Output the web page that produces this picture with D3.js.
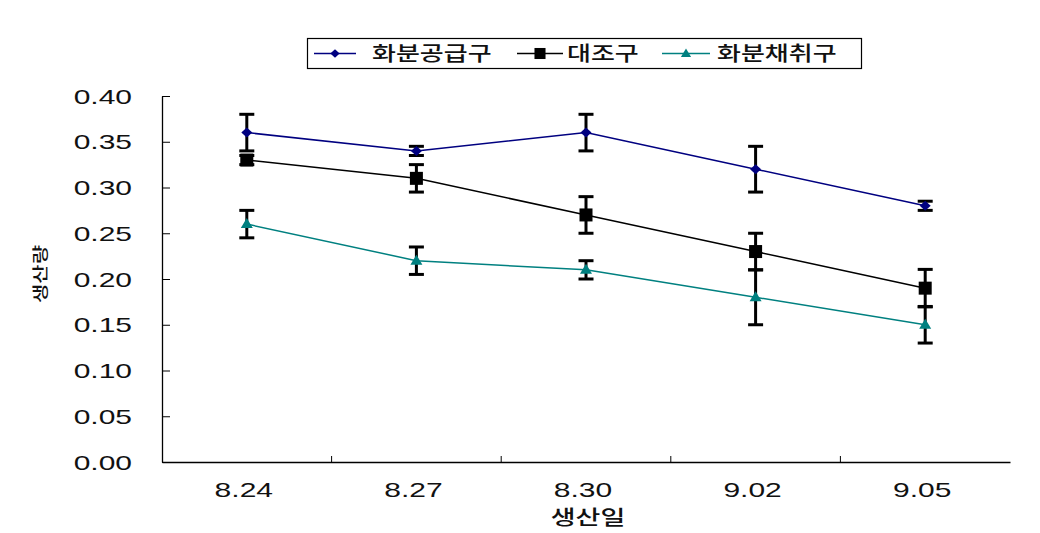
<!DOCTYPE html>
<html><head><meta charset="utf-8">
<script src="https://cdn.jsdelivr.net/npm/d3@7"></script>
<style>
body{margin:0;background:#fff;}
svg{display:block;}
text{font-family:"Liberation Sans",Arial,sans-serif;}
.kr{font-family:"Noto Sans CJK KR","Noto Sans",sans-serif;}
</style></head>
<body>
<svg id="c" width="1040" height="533"></svg>
<script>
const categories = ["8.24","8.27","8.30","9.02","9.05"];
const seriesNames = ["화분공급구","대조구","화분채취구"];
const supplyValues = [0.36,0.34,0.36,0.32,0.28];
const supplyErrors = [0.02,0.005,0.02,0.025,0.005];
const controlValues = [0.33,0.31,0.27,0.23,0.19];
const controlErrors = [0.005,0.015,0.02,0.02,0.0205];
const collectValues = [0.26,0.22,0.21,0.18,0.15];
const collectErrors = [0.015,0.015,0.01,0.03,0.02];
const yTicks = [0,0.05,0.10,0.15,0.20,0.25,0.30,0.35,0.40];
const xTitle = "생산일";
const yTitle = "생산량";

const series = [
  {name:seriesNames[0], values:supplyValues, errors:supplyErrors, color:"#000080", marker:"diamond"},
  {name:seriesNames[1], values:controlValues, errors:controlErrors, color:"#000000", marker:"square"},
  {name:seriesNames[2], values:collectValues, errors:collectErrors, color:"#008080", marker:"triangle"}
];

const svg = d3.select("#c");
const L=162, R=1010, T=96, B=462;
const x = d3.scaleBand().domain(categories).range([L,R]);
const y = d3.scaleLinear().domain([0,0.4]).range([B,T]);
const SX = 1.5;

// Y axis
const yAxis = svg.append("g").attr("transform",`translate(${L},0)`)
  .call(d3.axisLeft(y).tickValues(yTicks).tickFormat(d3.format(".2f")).tickSizeInner(-8).tickSizeOuter(0).tickPadding(0));
yAxis.select(".domain").attr("stroke","#000").attr("stroke-width",1.3);
yAxis.selectAll(".tick line").attr("stroke","#000").attr("stroke-width",1);
yAxis.selectAll(".tick text").attr("font-size",20).attr("fill","#111")
  .attr("text-anchor","end").attr("x",-30/SX).attr("dy","0.36em")
  .attr("transform",`scale(${SX},1)`).style("font-family","'Liberation Sans',Arial,sans-serif");

// X axis
const xAxis = svg.append("g").attr("transform",`translate(0,${B})`)
  .call(d3.axisBottom(x).tickSize(0).tickSizeOuter(0).tickPadding(0));
xAxis.select(".domain").attr("stroke","#000").attr("stroke-width",1.3);
xAxis.selectAll(".tick text").attr("font-size",20).attr("fill","#111")
  .attr("text-anchor","middle").attr("y",35).attr("dy",0)
  .attr("x",d=>-3/SX)
  .attr("transform",`scale(${SX},1)`).style("font-family","'Liberation Sans',Arial,sans-serif");
// separator ticks between categories (inward)
const sep = categories.slice(1).map(c=>x(c));
svg.append("g").selectAll("line").data(sep).join("line")
  .attr("x1",d=>d).attr("x2",d=>d).attr("y1",B).attr("y2",B-6)
  .attr("stroke","#000").attr("stroke-width",1);

const cx = c => x(c)+x.bandwidth()/2;

// error bars
series.forEach(s=>{
  const g = svg.append("g");
  s.values.forEach((v,i)=>{
    const xc = cx(categories[i]);
    const y1 = y(v+s.errors[i]), y2 = y(v-s.errors[i]);
    g.append("line").attr("x1",xc).attr("x2",xc).attr("y1",y1).attr("y2",y2).attr("stroke","#000").attr("stroke-width",3);
    [y1,y2].forEach(yy=>g.append("line").attr("x1",xc-7.5).attr("x2",xc+7.5).attr("y1",yy).attr("y2",yy).attr("stroke","#000").attr("stroke-width",3));
  });
});

// lines
const line = d3.line().x((d,i)=>cx(categories[i])).y(d=>y(d));
series.forEach(s=>{
  svg.append("path").datum(s.values).attr("d",line).attr("fill","none").attr("stroke",s.color).attr("stroke-width",1.5);
});

function drawMarker(g, type, xc, yc, color, k){
  k = k||1;
  if(type==="diamond"){
    g.append("path").attr("d",`M${xc},${yc-5*k}L${xc+5.5*k},${yc}L${xc},${yc+5*k}L${xc-5.5*k},${yc}Z`).attr("fill",color);
  } else if(type==="square"){
    g.append("rect").attr("x",xc-6.5*k).attr("y",yc-6.5*k).attr("width",13*k).attr("height",13*k).attr("fill",color);
  } else {
    g.append("path").attr("d",`M${xc},${yc-6*k}L${xc+6*k},${yc+4*k}L${xc-6*k},${yc+4*k}Z`).attr("fill",color);
  }
}
series.forEach(s=>{
  const g = svg.append("g");
  s.values.forEach((v,i)=>drawMarker(g, s.marker, cx(categories[i]), y(v), s.color));
});

// titles
function stretchText(txt, xc, yc, sx, sy, size, anchor, rot){
  const g = svg.append("g").attr("transform",`translate(${xc},${yc})${rot?` rotate(${rot})`:""} scale(${sx},${sy})`);
  g.append("text").attr("class","kr").attr("text-anchor",anchor||"middle").attr("font-size",size)
    .attr("dy","0.35em").attr("fill","#111").attr("font-weight",500).text(txt);
  return g;
}
stretchText(xTitle, 588, 518, 1.35, 1, 20, "middle");
stretchText(yTitle, 40, 274, 1.05, 0.8, 20, "middle", -90);

// legend
svg.append("rect").attr("x",307.5).attr("y",38.5).attr("width",554).attr("height",30)
  .attr("fill","#fff").attr("stroke","#000").attr("stroke-width",1.2);
const legendItems = [
  {s:series[0], x1:314, x2:356, tx:372},
  {s:series[1], x1:517, x2:563, tx:567},
  {s:series[2], x1:662, x2:710, tx:717}
];
const lg = svg.append("g");
legendItems.forEach(it=>{
  const ly = 53.5;
  lg.append("line").attr("x1",it.x1).attr("x2",it.x2).attr("y1",ly).attr("y2",ly).attr("stroke",it.s.color).attr("stroke-width",1.5);
  drawMarker(lg, it.s.marker, (it.x1+it.x2)/2, ly, it.s.color, 0.85);
  stretchText(it.s.name, it.tx, ly, 1.3, 1, 20, "start");
});
</script>
</body></html>
